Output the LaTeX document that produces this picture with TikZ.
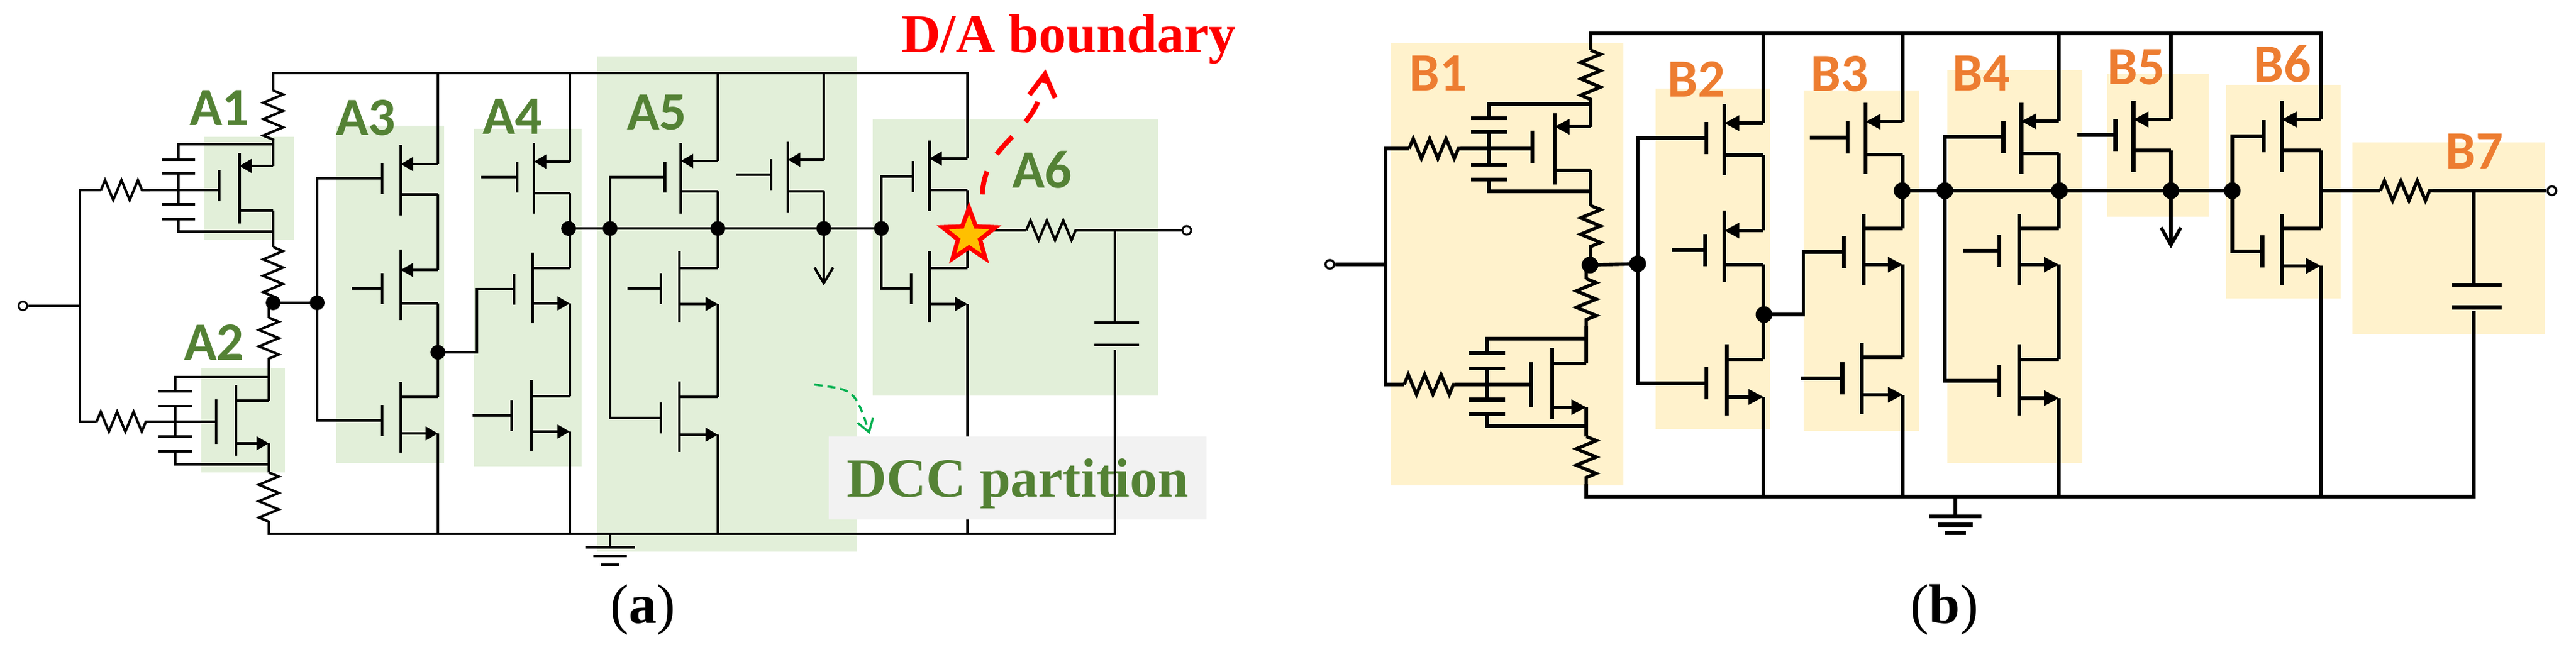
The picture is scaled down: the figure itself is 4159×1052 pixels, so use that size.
\documentclass[tikz,border=0pt]{standalone}
\usepackage{fontspec}
\setmainfont{Liberation Serif}
\newfontfamily\carl{Carlito}
\usetikzlibrary{arrows.meta,decorations.pathmorphing,shapes.geometric}
\definecolor{apart}{HTML}{E2EFD9}
\definecolor{atext}{HTML}{548235}
\definecolor{bpart}{HTML}{FFF2CC}
\definecolor{btext}{HTML}{ED7D31}
\definecolor{starfill}{HTML}{FFC000}
\definecolor{dccgreen}{HTML}{00B050}
\definecolor{dccbox}{HTML}{F2F2F2}
\tikzset{
  x=1pt,y=-1pt,
  up/.style={tip},un/.style={},lp/.style={},ln/.style={tip},
  res/.style={wire,decorate,decoration={zigzag,segment length=26.5pt,amplitude=16pt}},
  dot/.style={circle,fill=black,inner sep=0pt},
  term/.style={circle,draw=black,fill=white,inner sep=0pt,minimum size=14pt,line width=3pt},
  alab/.style={font=\carl\bfseries\fontsize{87}{87}\selectfont,text=atext,inner sep=0pt,anchor=base west},
  blab/.style={font=\carl\bfseries\fontsize{87}{87}\selectfont,text=btext,inner sep=0pt,anchor=base west},
  capt/.style={font=\fontsize{90}{90}\selectfont,inner sep=0pt,anchor=base},
  note/.style={font=\bfseries\fontsize{88}{88}\selectfont,inner sep=0pt,anchor=base west},
}
% #1 p/n, #2 name, #3 channel x, #4 channel y, #5 gate x, #6 gate y, #7 column x, #8 upper pin y, #9 lower pin y
\newcommand\mos[9]{%
  \coordinate (#2g) at (#5,#6);
  \coordinate (#2u) at (#3,#8);
  \coordinate (#2U) at (#7,#8);
  \coordinate (#2l) at (#3,#9);
  \coordinate (#2L) at (#7,#9);
  \draw[bar] (#3,{#4-\chh/2}) -- (#3,{#4+\chh/2});
  \draw[bar] (#5,{#6-\gth/2}) -- (#5,{#6+\gth/2});
  \draw[wire,u#1] (#2U) -- (#2u);
  \draw[wire,l#1] (#2l) -- (#2L);
}
\newcommand\stub[2]{%
  \path (#1g) ++(-#2,0) coordinate (#1s);
  \draw[wire] (#1s) -- (#1g);
}
\newcommand\plate[4]{%
  \coordinate (#1) at (#2,#3);
  \draw[bar] ({#2-#4},#3) -- ({#2+#4},#3);
}
\begin{document}
\begin{tikzpicture}
\useasboundingbox (0,0) rectangle (4159,1052);

% partitions
\fill[apart] (330,221) rectangle (475,387);
\fill[apart] (325,595) rectangle (460,763);
\fill[apart] (543,203) rectangle (717,748);
\fill[apart] (765,208) rectangle (939,753);
\fill[apart] (964,91) rectangle (1383,891);
\fill[apart] (1409,193) rectangle (1870,639);
\fill[bpart] (2246,70) rectangle (2621,784);
\fill[bpart] (2673,143) rectangle (2858,693);
\fill[bpart] (2912,146) rectangle (3098,696);
\fill[bpart] (3144,113) rectangle (3362,748);
\fill[bpart] (3402,119) rectangle (3566,350);
\fill[bpart] (3594,137) rectangle (3779,482);
\fill[bpart] (3798,230) rectangle (4109,540);

% ---------- panel a ----------
\begin{scope}[wire/.style={line width=4pt},bar/.style={line width=4.8pt},
  tip/.style={-{Triangle[length=20pt,width=22pt]}}]
\def\chh{114}\def\gth{50}
\node[dot,minimum size=24pt] (na) at (441,489) {};
\node[dot,minimum size=24pt] (nb) at (512,489) {};
\node[dot,minimum size=24pt] (nc) at (707,569) {};
\node[dot,minimum size=24pt] (nd) at (918,369) {};
\node[dot,minimum size=24pt] (ne) at (985,369) {};
\node[dot,minimum size=24pt] (nf) at (1159,369) {};
\node[dot,minimum size=24pt] (ng) at (1330,369) {};
\node[dot,minimum size=24pt] (nh) at (1423,369) {};

\coordinate (ra1) at (1562,118);
\coordinate (a1rt) at (441,146);
\coordinate (a1rb) at (441,226);
\coordinate (a1tj) at (441,233);
\coordinate (a1bj) at (441,374);
\coordinate (a1rc) at (441,399);
\coordinate (a1rd) at (441,479);
\coordinate (a2rt) at (434,513);
\coordinate (a2rb) at (434,591);
\coordinate (a2tj) at (434,609);
\coordinate (a2bj) at (434,750);
\coordinate (a2rc) at (434,763);
\coordinate (a2rd) at (434,843);
\coordinate (a1i) at (129,307);
\coordinate (a2i) at (129,681);
\coordinate (a0) at (129,494);
\coordinate (a1ra) at (163,307);
\coordinate (a1rz) at (242,307);
\coordinate (a1w) at (354,307);
\coordinate (a2ra) at (156,681);
\coordinate (a2rz) at (236,681);

% A1, A2
\mos{p}{a1}{386.5}{304}{354}{300}{441}{268}{339.5}
{\def\gth{72}\mos{n}{a2}{381}{679}{349}{681}{434}{647}{716}}
\plate{c11}{288}{258}{27}
\plate{c12}{288}{280}{27}
\plate{c13}{288}{330}{27}
\plate{c14}{288}{354}{27}
\plate{c21}{283}{632}{27}
\plate{c22}{283}{656}{27}
\plate{c23}{283}{705}{27}
\plate{c24}{283}{729}{27}
\draw[res] (a1rt) -- (a1rb);
\draw[res] (a1rc) -- (a1rd);
\draw[res] (a2rt) -- (a2rb);
\draw[res] (a2rc) -- (a2rd);
\draw[res] (a1ra) -- (a1rz);
\draw[res] (a2ra) -- (a2rz);
\draw[wire] (a1rb) -- (a1U);
\draw[wire] (a1L) -- (a1rc);
\draw[wire] (a1rd) -- (na.center) -| (a2rt);
\draw[wire] (a2rb) -- (a2U);
\draw[wire] (a2L) -- (a2rc);
\draw[wire] (a1tj) -| (c11);
\draw[wire] (c12) -- (c13);
\draw[wire] (c14) |- (a1bj);
\draw[wire] (a2tj) -| (c21);
\draw[wire] (c22) -- (c23);
\draw[wire] (c24) |- (a2bj);
\draw[wire] (a1ra) -| (a2i) -- (a2ra);
\draw[wire] (a1rz) -- (a1w);
\draw[wire] (a2rz) -- (a2g);
\node[term] (ina) at (37,494) {};
\draw[wire] (ina) -- (a0);

% A3
\mos{p}{a3p}{647}{291}{617}{288}{707}{265}{314}
\mos{p}{a3q}{647}{460}{617}{466}{707}{436}{490}
\mos{n}{a3n}{647}{674}{617}{679}{707}{641}{700}
\stub{a3q}{49}
\draw[wire] (na.center) -- (nb.center);
\draw[wire] (a3pg) -| (nb.center);
\draw[wire] (a3ng) -| (nb.center);
\draw[wire] (a3pU |- ra1) -- (a3pU);
\draw[wire] (a3pL) -- (a3qU);
\draw[wire] (a3qL) -- (a3nU);

% A4
\mos{p}{a4p}{862}{288}{835}{286}{920}{261}{312}
\mos{n}{a4q}{860}{465}{830}{467}{920}{433}{490}
\mos{n}{a4n}{858}{671}{826}{671}{920}{640}{697}
\stub{a4p}{58}
\stub{a4n}{63}
\coordinate (a4t) at (770,467);
\draw[wire] (nc.center) -| (a4t) -- (a4qg);
\draw[wire] (a4pU |- ra1) -- (a4pU);
\draw[wire] (a4pL) -- (a4qU);
\draw[wire] (a4qL) -- (a4nU);

% A5
\mos{p}{a5p}{1099}{288}{1073.5}{286}{1159}{260}{309}
\mos{n}{a5q}{1097}{463}{1067}{466}{1159}{433}{491}
\mos{n}{a5n}{1097}{673}{1067}{675}{1159}{641}{702}
\mos{p}{a5r}{1272}{286}{1245}{282}{1330}{258}{309}
\stub{a5q}{54}
\stub{a5r}{56}
\coordinate (a5tip) at (1330,461);
\draw[wire] (nd.center) -- (nh.center);
\draw[wire] (a5pg) -| (ne.center);
\draw[wire] (a5ng) -| (ne.center);
\draw[wire] (a5pU |- ra1) -- (a5pU);
\draw[wire] (a5pL) -- (a5qU);
\draw[wire] (a5qL) -- (a5nU);
\draw[wire] (a5rU |- ra1) -- (a5rU);
\draw[wire] (a5rL) -- (ng.center);
\draw[wire,-{Straight Barb[length=25pt,width=30pt]}] (ng.center) -- (a5tip);

% A6
\mos{p}{a6p}{1500.6}{284}{1474}{285}{1562}{256}{307}
\mos{n}{a6n}{1500.6}{463}{1471}{466}{1562}{433}{491}
\coordinate (a6o) at (1562,372);
\coordinate (a6ra) at (1657,372);
\coordinate (a6rb) at (1737,372);
\coordinate (a6j) at (1800,372);
\draw[wire] (a6pg) -| (nh.center);
\draw[wire] (a6ng) -| (nh.center);
\draw[wire] (a6pU |- ra1) -- (a6pU);
\draw[wire] (a6pL) -- (a6nU);
\draw[wire] (a6o) -- (a6ra);
\draw[res] (a6ra) -- (a6rb);
\node[term] (outa) at (1916,372) {};
\draw[wire] (a6rb) -- (outa);
\plate{a6c1}{1803}{521}{36}
\plate{a6c2}{1803}{557}{36}
\coordinate (a6c3) at (1800,565);
\draw[wire] (a6j) -- (a6j |- a6c1);
\draw[wire] (a6nL) -- (a6nL |- a2rd) -- ++(0,19);

% DCC box sits over the A6 ground wire
\fill[dccbox] (1338,705) rectangle (1948,839);

\coordinate (gb1) at (1800,862);
\draw[wire] (a1rt) |- (ra1) -- (a6pU);
\draw[wire] (a2rd) |- (gb1) -- (a6c3);
\draw[wire] (a3nL) -- (a3nL |- gb1);
\draw[wire] (a4nL) -- (a4nL |- gb1);
\draw[wire] (a5nL) -- (a5nL |- gb1);
\coordinate (ga) at (985,862);
\plate{ga1}{985}{884}{40}
\plate{ga2}{985}{898}{27}
\plate{ga3}{985}{912}{15}
\draw[wire] (ga) -- (ga1);

\node[star,star points=5,star point ratio=2.4,minimum size=90pt,inner sep=0pt,
  draw=red,fill=starfill,line width=7pt] (star) at (1564.5,381) {};
\end{scope}

\node[alab] (la1) at (306,202) {A1};
\node[alab] (la2) at (297,581) {A2};
\node[alab] (la3) at (542,218) {A3};
\node[alab] (la4) at (779,216) {A4};
\node[alab] (la5) at (1012,209) {A5};
\node[alab] (la6) at (1634,303) {A6};
\node[note,text=red] (da) at (1455,84) {D/A boundary};
\node[note,text=atext,font=\bfseries\fontsize{89}{89}\selectfont] (dcc) at (1367,802) {DCC partition};
\coordinate (das) at (1586,314);
\coordinate (dat) at (1688,112);
\draw[red,line width=8pt,dash pattern=on 38pt off 32pt,
  -{Straight Barb[length=36pt,width=42pt,line width=8pt]}]
  (das) .. controls (1590,225) and (1675,220) .. (dat);
\coordinate (dcs) at (1315,621);
\coordinate (dct) at (1404,701);
\draw[dccgreen,line width=3.5pt,dash pattern=on 13pt off 8pt,
  -{Straight Barb[length=20pt,width=26pt,line width=3.5pt]}]
  (dcs) .. controls (1375,630) and (1380,625) .. (dct);
\node[capt] (capa) at (1038,1006) {({\bfseries a})};

% ---------- panel b ----------
\begin{scope}[wire/.style={line width=5.4pt},bar/.style={line width=6.2pt},
  tip/.style={-{Triangle[length=24pt,width=24pt]}}]
\def\chh{115}\def\gth{52}
\node[dot,minimum size=27pt] (nA) at (2567,428) {};
\node[dot,minimum size=27pt] (nB) at (2644,426) {};
\node[dot,minimum size=27pt] (nC) at (2848,508) {};
\node[dot,minimum size=27pt] (nD) at (3071,308) {};
\node[dot,minimum size=27pt] (nE) at (3140,308) {};
\node[dot,minimum size=27pt] (nF) at (3325,308) {};
\node[dot,minimum size=27pt] (nG) at (3505,308) {};
\node[dot,minimum size=27pt] (nH) at (3604,308) {};

\coordinate (rb1) at (3747,54);
\coordinate (b1rt) at (2568,81);
\coordinate (b1rb) at (2568,161);
\coordinate (b1tj) at (2568,168);
\coordinate (b1bj) at (2568,309);
\coordinate (b1rc) at (2568,332);
\coordinate (b1rd) at (2568,411);
\coordinate (b2rt) at (2561,450);
\coordinate (b2rb) at (2561,527);
\coordinate (b2tj) at (2561,547);
\coordinate (b2bj) at (2561,688);
\coordinate (b2rc) at (2561,705);
\coordinate (b2rd) at (2561,782);
\coordinate (b0) at (2237,427);
\coordinate (b1i) at (2237,240);
\coordinate (b2i) at (2237,621);
\coordinate (b1ra) at (2275,240);
\coordinate (b1rz) at (2358,240);
\coordinate (b1w) at (2473.6,240);
\coordinate (b2ra) at (2267,621);
\coordinate (b2rz) at (2349,621);

% B1
\mos{p}{u1}{2510}{240}{2473.6}{236.5}{2568}{204.7}{275}
{\def\gth{72}\mos{n}{u1b}{2506}{619}{2471.6}{621}{2561}{587}{657.6}}
\plate{p1}{2404}{191}{29}
\plate{p2}{2404}{213}{29}
\plate{p3}{2404}{266}{29}
\plate{p4}{2404}{290}{29}
\plate{q1}{2401}{570}{29}
\plate{q2}{2401}{595}{29}
\plate{q3}{2401}{645.5}{29}
\plate{q4}{2401}{669}{29}
\draw[res] (b1rt) -- (b1rb);
\draw[res] (b1rc) -- (b1rd);
\draw[res] (b2rt) -- (b2rb);
\draw[res] (b2rc) -- (b2rd);
\draw[res] (b1ra) -- (b1rz);
\draw[res] (b2ra) -- (b2rz);
\draw[wire] (b1rb) -- (u1U);
\draw[wire] (u1L) -- (b1rc);
\draw[wire] (b1rd) -- (nA.center) -| (b2rt);
\draw[wire] (b2rb) -- (u1bU);
\draw[wire] (u1bL) -- (b2rc);
\draw[wire] (b1tj) -| (p1);
\draw[wire] (p2) -- (p3);
\draw[wire] (p4) |- (b1bj);
\draw[wire] (b2tj) -| (q1);
\draw[wire] (q2) -- (q3);
\draw[wire] (q4) |- (b2bj);
\draw[wire] (b1ra) -| (b2i) -- (b2ra);
\draw[wire] (b1rz) -- (b1w);
\draw[wire] (b2rz) -- (u1bg);
\node[term,line width=3.5pt] (inb) at (2147,427) {};
\draw[wire] (inb) -- (b0);

% B2
\mos{p}{u2p}{2784}{225.5}{2755}{223}{2847}{199}{250}
\mos{p}{u2q}{2784}{397.5}{2753}{404}{2847}{372.4}{427.4}
\mos{n}{u2n}{2788}{613}{2755}{619}{2847}{580.4}{641}
\stub{u2q}{54}
\draw[wire] (nA.center) -- (nB.center);
\draw[wire] (u2pg) -| (nB.center);
\draw[wire] (u2ng) -| (nB.center);
\draw[wire] (u2pU |- rb1) -- (u2pU);
\draw[wire] (u2pL) -- (u2qU);
\draw[wire] (u2qL) -- (u2nU);

% B3
\mos{p}{u3p}{3012}{223}{2983}{222}{3072}{196.6}{249.6}
\mos{n}{u3q}{3009}{403}{2977}{407}{3072}{369}{427.4}
\mos{n}{u3n}{3006}{611}{2974.5}{611}{3072}{577}{637.5}
\stub{u3p}{61}
\stub{u3n}{67}
\coordinate (u3t) at (2911.5,407);
\draw[wire] (nC.center) -| (u3t) -- (u3qg);
\draw[wire] (u3pU |- rb1) -- (u3pU);
\draw[wire] (u3pL) -- (u3qU);
\draw[wire] (u3qL) -- (u3nU);

% B4
\mos{p}{u4p}{3263.4}{223}{3234.4}{221}{3324}{196}{248}
\mos{n}{u4q}{3260}{403}{3228}{405}{3324}{369}{427.4}
\mos{n}{u4n}{3260}{613}{3228}{615}{3324}{580.4}{643}
\stub{u4q}{58}
\draw[wire] (nD.center) -- (nH.center);
\draw[wire] (u4pg) -| (nE.center);
\draw[wire] (u4ng) -| (nE.center);
\draw[wire] (u4pU |- rb1) -- (u4pU);
\draw[wire] (u4pL) -- (u4qU);
\draw[wire] (u4qL) -- (u4nU);

% B5
\mos{p}{u5}{3444.5}{220}{3415.4}{218}{3505}{193}{243}
\stub{u5}{61}
\coordinate (u5tip) at (3505,401);
\draw[wire] (u5U |- rb1) -- (u5U);
\draw[wire] (u5L) -- (nG.center);
\draw[wire,-{Straight Barb[length=28pt,width=32pt]}] (nG.center) -- (u5tip);

% B6
\mos{p}{u6p}{3684}{220}{3655}{220}{3747}{193}{243}
\mos{n}{u6n}{3684}{403}{3652.5}{406}{3747}{369}{429.4}
\draw[wire] (u6pg) -| (nH.center);
\draw[wire] (u6ng) -| (nH.center);
\draw[wire] (u6pL) -- (u6nU);

% B7
\coordinate (b7o) at (3747,308);
\coordinate (b7ra) at (3843,308);
\coordinate (b7rb) at (3929,308);
\coordinate (b7j) at (3994,308);
\draw[wire] (b7o) -- (b7ra);
\draw[res] (b7ra) -- (b7rb);
\node[term,line width=3.5pt] (outb) at (4120,308) {};
\draw[wire] (b7rb) -- (outb);
\plate{b7c1}{3999}{460}{40}
\plate{b7c2}{3999}{496.5}{40}
\coordinate (b7c3) at (3994,502);
\draw[wire] (b7j) -- (b7j |- b7c1);

\coordinate (gb2) at (3994,802);
\draw[wire] (b1rt) |- (rb1) -- (u6pU);
\draw[wire] (b2rd) |- (gb2) -- (b7c3);
\draw[wire] (u2nL) -- (u2nL |- gb2);
\draw[wire] (u3nL) -- (u3nL |- gb2);
\draw[wire] (u4nL) -- (u4nL |- gb2);
\draw[wire] (u6nL) -- (u6nL |- gb2);
\coordinate (gc) at (3157,802);
\plate{gc1}{3157}{834}{42}
\plate{gc2}{3157}{847.5}{28}
\plate{gc3}{3157}{861}{17}
\draw[wire] (gc) -- (gc1);
\end{scope}

\node[blab] (lb1) at (2275,146) {B1};
\node[blab] (lb2) at (2692,156) {B2};
\node[blab] (lb3) at (2923,147) {B3};
\node[blab] (lb4) at (3152,146) {B4};
\node[blab] (lb5) at (3402,136) {B5};
\node[blab] (lb6) at (3638,132) {B6};
\node[blab] (lb7) at (3948,272) {B7};
\node[capt] (capb) at (3139,1006) {({\bfseries b})};
\end{tikzpicture}
\end{document}
